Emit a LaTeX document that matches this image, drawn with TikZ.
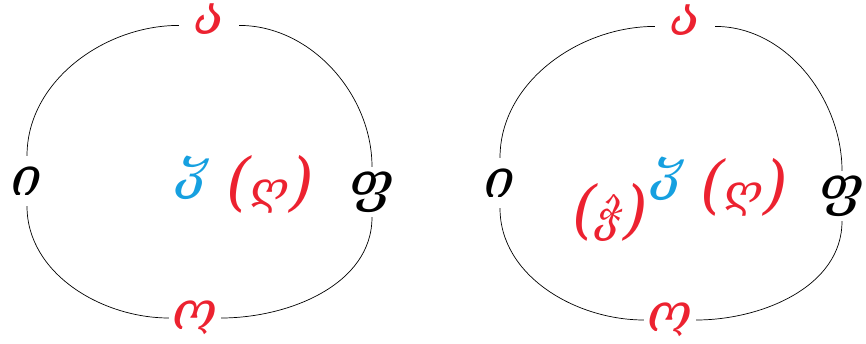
\documentclass[tikz,border=0pt]{standalone}
\usepackage{fontspec}
\newfontfamily\geofont{DejaVu Serif}
\definecolor{letterred}{RGB}{236,34,48}
\definecolor{letterblue}{RGB}{22,160,224}
\newcommand{\br}[1]{{\fontsize{54}{54}\selectfont(}#1{\fontsize{54}{54}\selectfont)}}

\begin{document}
\begin{tikzpicture}[
		x=0.03cm, y=-0.03cm,
		ltr/.style={
			font=\geofont\itshape\fontsize{46}{46}\selectfont,
			inner sep=1pt
		},
		toplbl/.style={ltr, letterred, minimum width=1.8cm},
		sidelbl/.style={ltr, black, minimum height=1.5cm},
		botlbl/.style={ltr, letterred, minimum width=1.55cm},
		midlbl/.style={ltr, letterblue},
		extralbl/.style={ltr, letterred, font=\geofont\itshape\fontsize{38}{38}\selectfont},
		ring/.style={line width=0.6pt, looseness=0.95}
		]
		\useasboundingbox (0,0) rectangle (866,344);
		
		% left ring
		\node[toplbl] (a1) at (209,19) {ა};
		\node[sidelbl] (i1) at (27,181) {ი};
		\node[sidelbl] (p1) at (372,192) {ფ};
		\node[botlbl] (o1) at (195,318) {ო};
		\node[midlbl] (w1) at (193,178) {ჳ};
		\node[extralbl] (g1) at (270,184) {\br{ღ}};
		
		\draw[ring] (i1) to[out=90,in=180] (a1.192);
		\draw[ring] (a1.-12) to[out=0,in=90] (p1);
		\draw[ring] (p1) to[out=-90,in=0] (o1);
		\draw[ring] (o1) to[out=180,in=-90] (i1);
		
		% right ring
		\node[toplbl] (a2) at (685,20) {ა};
		\node[sidelbl] (i2) at (500,183) {ი};
		\node[sidelbl] (p2) at (842,196) {ფ};
		\node[botlbl] (o2) at (670,320) {ო};
		\node[midlbl] (w2) at (668,179) {ჳ};
		\node[extralbl] (g2) at (744,187) {\br{ღ}};
		\node[extralbl] (c2) at (610,212) {\br{ჭ}};
		
		\draw[ring] (i2) to[out=90,in=180] (a2.192);
		\draw[ring] (a2.-12) to[out=0,in=90] (p2);
		\draw[ring] (p2) to[out=-90,in=0] (o2);
		\draw[ring] (o2) to[out=180,in=-90] (i2);
		
\end{tikzpicture}
\end{document}
